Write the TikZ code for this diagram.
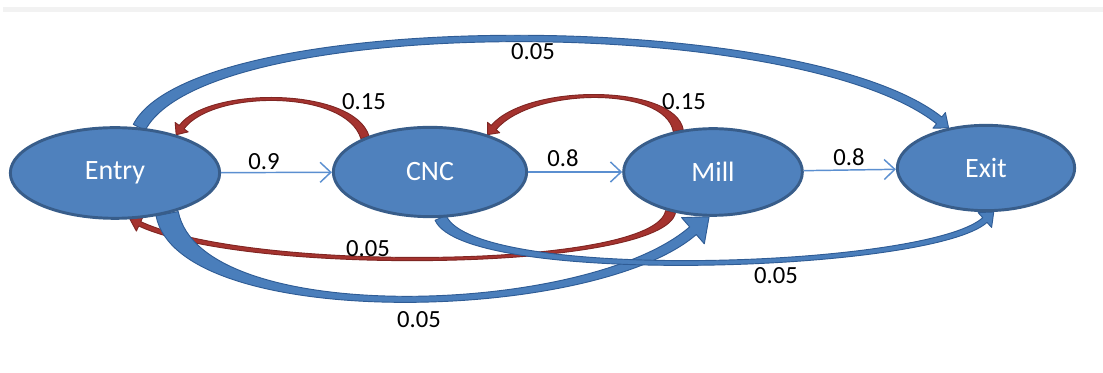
\documentclass[tikz,border=0pt]{standalone}
\usepackage{fontspec}
\setmainfont{Carlito}
\usetikzlibrary{shapes.geometric,arrows.meta,calc}
\pgfdeclarelayer{background}
\pgfsetlayers{background,main}
\definecolor{nodeblue}{HTML}{4F81BD}
\definecolor{nodeborder}{HTML}{385D8A}
\definecolor{arrblue}{HTML}{4A7EBB}
\definecolor{arrblueborder}{HTML}{2F5C95}
\definecolor{arrred}{HTML}{A5332F}
\definecolor{arrredborder}{HTML}{7F2623}
\definecolor{lineblue}{HTML}{5B8FD0}
% tapered curved block arrow:
% #1 start, #2 control 1, #3 control 2, #4 tip, #5 half width at start,
% #6 half width at end, #7 half head width, #8 head length, #9 style
\newcommand{\taperarr}[9]{%
  \coordinate (tA) at (#1);
  \coordinate (tB) at (#2);
  \coordinate (tC) at (#3);
  \coordinate (tT) at (#4);
  \coordinate (tE) at ($(tT)!#8!(tC)$);
  \filldraw[#9, line width=0.7pt, line join=round]
    ($(tA)!#5!90:(tB)$) .. controls ($(tB)!#5!-90:(tA)$) and ($(tC)!#6!90:(tE)$) .. ($(tE)!#6!-90:(tC)$)
    -- ($(tE)!#7!-90:(tC)$) -- (tT) -- ($(tE)!#7!90:(tC)$)
    -- ($(tE)!#6!90:(tC)$) .. controls ($(tC)!#6!-90:(tE)$) and ($(tB)!#5!90:(tA)$) .. ($(tA)!#5!-90:(tB)$)
    -- cycle;
}
\begin{document}
\begin{tikzpicture}[x=0.75pt,y=-0.75pt,
  statenode/.style={ellipse, fill=nodeblue, draw=nodeborder, line width=2.2pt, text=white,
    font=\fontsize{21}{25}\selectfont, inner sep=0pt},
  lbl/.style={font=\fontsize{18.5}{22}\selectfont, text=black, inner sep=0pt},
  flowline/.style={draw=lineblue, line width=1.1pt,
    -{Straight Barb[length=8pt,width=15pt,line width=1.1pt]}},
  bluearr/.style={fill=arrblue, draw=arrblueborder},
  redarr/.style={fill=arrred, draw=arrredborder}]
\useasboundingbox (0,0) rectangle (1103,373);
\fill[black!5] (3,7) rectangle (1103,12);

\node[statenode, minimum width=157pt, minimum height=68pt] (entry) at (115,173) {Entry};
\node[statenode, minimum width=145pt, minimum height=67pt] (cnc) at (430,172) {CNC};
\node[statenode, minimum width=134pt, minimum height=65pt] (mill) at (713,172) {Mill};
\node[statenode, minimum width=133pt, minimum height=64pt] (exit) at (986,168) {Exit};

\begin{pgfonlayer}{background}
% top blue Entry -> Exit
\taperarr{entry.62}{200,10}{800,10}{exit.133}{5pt}{3.2pt}{7.5pt}{9pt}{bluearr}
% red CNC -> Entry
\taperarr{cnc.152}{350,88}{210,88}{entry.32}{3.2pt}{2.2pt}{6pt}{7pt}{redarr}
% red Mill -> CNC
\taperarr{mill.130}{670,85}{530,85}{cnc.33}{3.8pt}{2.4pt}{6pt}{7pt}{redarr}
% red bottom Mill -> Entry
\taperarr{mill.223}{660,270}{250,275}{entry.288}{3.8pt}{1.8pt}{6pt}{8pt}{redarr}
% blue bottom Entry -> Mill
\taperarr{entry.-38}{190,330}{590,320}{mill.265}{8.5pt}{3.8pt}{13pt}{16pt}{bluearr}
% blue CNC -> Exit
\taperarr{cnc.-77}{470,285}{930,270}{exit.-80}{4.5pt}{2.4pt}{7.5pt}{9pt}{bluearr}
\end{pgfonlayer}

\draw[flowline] (entry) -- (cnc);
\draw[flowline] (cnc) -- (mill);
\draw[flowline] (mill) -- (exit);

\node[lbl] (l1) at (533,52) {0.05};
\node[lbl] (l2) at (364,102) {0.15};
\node[lbl] (l3) at (684,102) {0.15};
\node[lbl] (l4) at (264,162) {0.9};
\node[lbl] (l5) at (563,158) {0.8};
\node[lbl] (l6) at (849,157) {0.8};
\node[lbl] (l7) at (368,249) {0.05};
\node[lbl] (l8) at (776,276) {0.05};
\node[lbl] (l9) at (419,320) {0.05};
\end{tikzpicture}
\end{document}
